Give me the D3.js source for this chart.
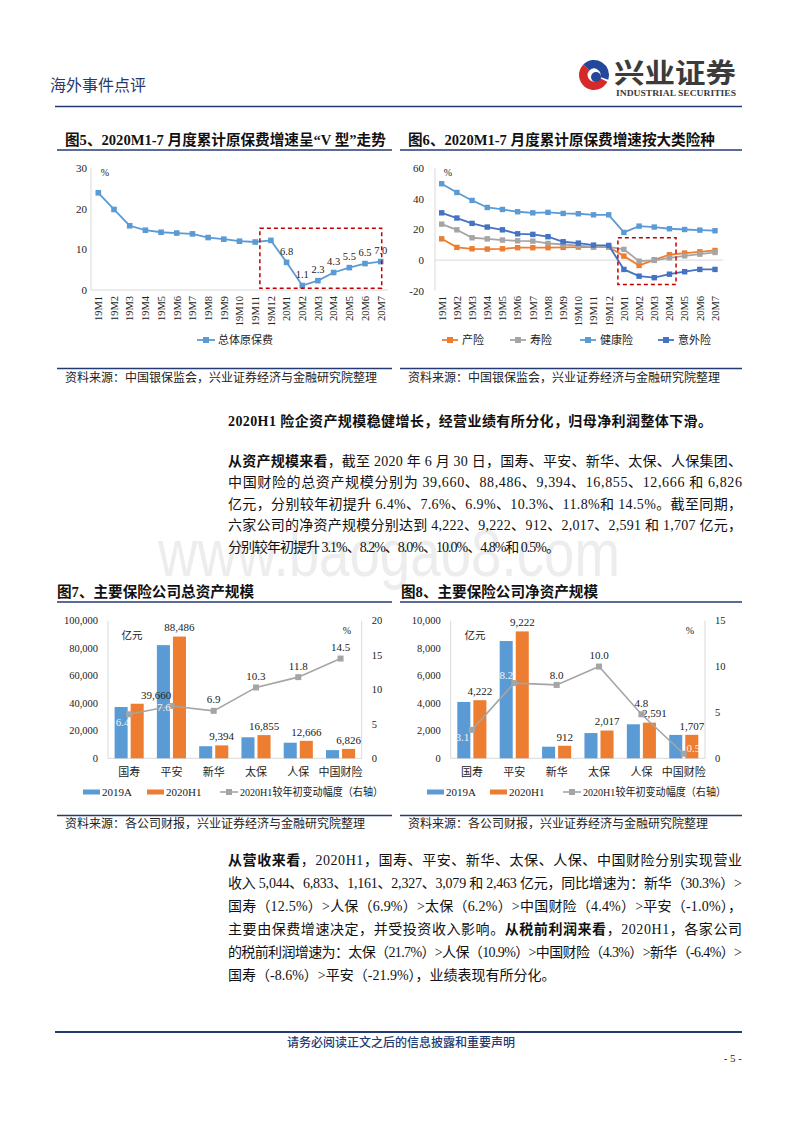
<!DOCTYPE html>
<html><head><meta charset="utf-8">
<script src="https://cdn.jsdelivr.net/npm/d3@7"></script>
<style>
body{margin:0;background:#fff}
svg{display:block}
text{font-family:"Liberation Serif","Noto Sans CJK SC",serif;fill:#222}
</style>
</head><body>
<svg id="page" width="800" height="1132"></svg>
<script>
// ---------------- DATA ----------------
const months = ["19M1","19M2","19M3","19M4","19M5","19M6","19M7","19M8","19M9","19M10","19M11","19M12","20M1","20M2","20M3","20M4","20M5","20M6","20M7"];
const totalPremium = [23.9,19.8,15.8,14.7,14.2,14.0,13.8,12.9,12.5,12.0,11.8,12.2,6.8,1.1,2.3,4.3,5.5,6.5,7.0];
const labelledMonths = ["20M1","20M2","20M3","20M4","20M5","20M6","20M7"];
const propertyIns = [13.9,8.3,7.4,7.2,7.4,8.1,8.1,8.1,8.3,8.5,8.5,8.5,2.6,-3.5,0.2,3.5,4.6,5.4,6.3];
const lifeIns = [23.5,19.8,14.6,13.9,13.1,12.6,12.4,10.9,10.2,9.4,8.7,8.7,7.0,-0.7,-0.2,1.5,2.8,3.9,5.0];
const healthIns = [49.9,44.2,39.0,34.4,33.1,31.6,30.9,31.2,30.5,30.3,29.6,29.6,18.1,22.2,21.6,20.5,20.0,19.6,19.2];
const accidentIns = [30.9,27.5,24.0,21.6,19.8,17.2,16.8,15.3,12.0,11.1,9.8,9.6,-6.1,-10.5,-11.5,-9.2,-7.6,-6.1,-6.1];
const fig6Series = ["产险","寿险","健康险","意外险"];

const companies = ["国寿","平安","新华","太保","人保","中国财险"];
const barSeries = ["2019A","2020H1"];
const totalAssets2019 = [37274,82236,8788,15281,11329,5962];
const totalAssetsH1 = [39660,88486,9394,16855,12666,6826];
const totalAssetsChg = [6.4,7.6,6.9,10.3,11.8,14.5];
const netAssets2019 = [4095,8523,844,1834,2472,1699];
const netAssetsH1 = [4222,9222,912,2017,2591,1707];
const netAssetsChg = [3.1,8.2,8.0,10.0,4.8,0.5];

const fig5Ticks = [0,10,20,30];
const fig6Ticks = [-20,0,20,40,60];
const fig7LeftTicks = [0,20000,40000,60000,80000,100000];
const fig7RightTicks = [0,5,10,15,20];
const fig8LeftTicks = [0,2000,4000,6000,8000,10000];
const fig8RightTicks = [0,5,10,15];

// ---------------- STYLE ----------------
const NAVY = "#243a73";
const BLUE = "#5b9bd5", ORANGE = "#ed7d31", GREY = "#a5a5a5", DBLUE = "#4472c4";
const AXIS = "#d9d9d9";
const CJK = '"Noto Sans CJK SC",sans-serif';
const svg = d3.select("#page");

// ---------------- WATERMARK ----------------
svg.append("text").attr("x",158).attr("y",576).attr("textLength",462).attr("lengthAdjust","spacingAndGlyphs")
  .style("font-family","'Liberation Sans',sans-serif").style("font-size","66px").style("fill","#ededed").text("www.baogao8.com");

// ---------------- HEADER ----------------
svg.append("text").attr("x",50).attr("y",91).style("font-family",CJK).style("font-size","16px").style("fill",NAVY).text("海外事件点评");
const logo = svg.append("g").attr("transform","translate(594,75)");
logo.append("path").attr("d",d3.arc()({innerRadius:6.5,outerRadius:15,startAngle:Math.PI*0.15,endAngle:Math.PI*1.25})).attr("fill","#d42a2a").attr("transform","rotate(90)");
logo.append("path").attr("d",d3.arc()({innerRadius:6.5,outerRadius:15,startAngle:Math.PI*1.25,endAngle:Math.PI*2.1})).attr("fill","#23479b").attr("transform","rotate(90)");
logo.append("circle").attr("r",5).attr("cx",2).attr("cy",2).attr("fill","#23479b");
svg.append("text").attr("x",614).attr("y",83).attr("textLength",122).attr("lengthAdjust","spacingAndGlyphs")
  .style("font-family",CJK).style("font-weight","700").style("font-size","27px").style("fill","#3b3b3b").text("兴业证券");
svg.append("text").attr("x",616).attr("y",96).attr("textLength",120).attr("lengthAdjust","spacingAndGlyphs")
  .style("font-weight","700").style("font-size","8px").style("fill","#3b3b3b").text("INDUSTRIAL SECURITIES");
svg.append("line").attr("x1",55).attr("x2",742).attr("y1",106.5).attr("y2",106.5).attr("stroke",NAVY).attr("stroke-width",1.5);

// ---------------- TITLES / SOURCES ----------------
function title(x, y, t){
  svg.append("text").attr("x",x).attr("y",y).style("font-weight","700").style("font-size","14.6px").style("fill","#111").text(t);
}
function rule(x1,x2,y,w){ svg.append("line").attr("x1",x1).attr("x2",x2).attr("y1",y).attr("y2",y).attr("stroke",NAVY).attr("stroke-width",w||1.5); }
function source(x,y,t){ svg.append("text").attr("x",x).attr("y",y).style("font-size","12px").style("fill","#222").text(t); }

title(65,145,"图5、2020M1-7 月度累计原保费增速呈“V 型”走势");
title(408,145,"图6、2020M1-7 月度累计原保费增速按大类险种");
rule(57,392,150); rule(400,742,150);
rule(57,392,368.5); rule(400,742,368.5);
source(65,382,"资料来源：中国银保监会，兴业证券经济与金融研究院整理");
source(408,382,"资料来源：中国银保监会，兴业证券经济与金融研究院整理");

title(57,597,"图7、主要保险公司总资产规模");
title(401,597,"图8、主要保险公司净资产规模");
rule(57,392,602); rule(400,742,602);
rule(57,392,815.5); rule(400,742,815.5);
source(65,828,"资料来源：各公司财报，兴业证券经济与金融研究院整理");
source(408,828,"资料来源：各公司财报，兴业证券经济与金融研究院整理");

// ---------------- FIG 5 ----------------
(function(){
  const g = svg.append("g");
  const x = d3.scalePoint(months,[98.3,380.7]);
  const y = d3.scaleLinear([0,30],[290,168]);
  g.append("line").attr("x1",91).attr("x2",91).attr("y1",y(30)).attr("y2",y(0)).attr("stroke",AXIS);
  g.append("line").attr("x1",91).attr("x2",388).attr("y1",y(0)).attr("y2",y(0)).attr("stroke",AXIS);
  g.selectAll(".yt").data(fig5Ticks).join("text").attr("x",87).attr("y",d=>y(d)).attr("dy","0.35em")
    .attr("text-anchor","end").style("font-size","11px").text(d=>d);
  g.selectAll(".xt").data(months).join("text")
    .attr("transform",d=>`translate(${x(d)+3.8},296) rotate(-90)`).attr("text-anchor","end")
    .style("font-size","10.5px").text(d=>d);
  g.append("text").attr("x",105).attr("y",176).attr("text-anchor","middle").style("font-size","10px").text("%");
  g.append("path").datum(totalPremium).attr("fill","none").attr("stroke",BLUE).attr("stroke-width",1.8)
    .attr("d",d3.line().x((d,i)=>x(months[i])).y(d=>y(d)));
  g.selectAll(".m").data(totalPremium).join("rect").attr("x",(d,i)=>x(months[i])-2.8).attr("y",d=>y(d)-2.8)
    .attr("width",5.6).attr("height",5.6).attr("fill",BLUE);
  g.selectAll(".lb").data(labelledMonths).join("text")
    .attr("x",d=>x(d)).attr("y",d=>y(totalPremium[months.indexOf(d)])-11).attr("dy","0.35em")
    .attr("text-anchor","middle").style("font-size","10.5px").text(d=>totalPremium[months.indexOf(d)].toFixed(1));
  g.append("rect").attr("x",x("19M12")-11).attr("y",y(15.2)).attr("width",x("20M7")+1-(x("19M12")-11)).attr("height",y(0.4)-y(15.2))
    .attr("fill","none").attr("stroke","#c00000").attr("stroke-width",1.5).attr("stroke-dasharray","4,3");
  g.append("line").attr("x1",197).attr("x2",215).attr("y1",340).attr("y2",340).attr("stroke",BLUE).attr("stroke-width",1.8);
  g.append("rect").attr("x",203).attr("y",337).attr("width",6).attr("height",6).attr("fill",BLUE);
  g.append("text").attr("x",218).attr("y",344).style("font-size","11px").text("总体原保费");
})();

// ---------------- FIG 6 ----------------
(function(){
  const g = svg.append("g");
  const x = d3.scalePoint(months,[441.7,715]);
  const y = d3.scaleLinear([-20,60],[290.7,168.3]);
  const series = [propertyIns,lifeIns,healthIns,accidentIns];
  const colors = [ORANGE,GREY,BLUE,DBLUE];
  g.append("line").attr("x1",435).attr("x2",435).attr("y1",y(60)).attr("y2",y(-20)).attr("stroke",AXIS);
  g.append("line").attr("x1",435).attr("x2",723).attr("y1",y(0)).attr("y2",y(0)).attr("stroke",AXIS);
  g.selectAll(".yt").data(fig6Ticks).join("text").attr("x",424).attr("y",d=>y(d)).attr("dy","0.35em")
    .attr("text-anchor","end").style("font-size","11px").text(d=>d);
  g.selectAll(".xt").data(months).join("text")
    .attr("transform",d=>`translate(${x(d)+3.8},296) rotate(-90)`).attr("text-anchor","end")
    .style("font-size","10.5px").text(d=>d);
  g.append("text").attr("x",448).attr("y",176).attr("text-anchor","middle").style("font-size","10px").text("%");
  series.forEach((s,k)=>{
    g.append("path").datum(s).attr("fill","none").attr("stroke",colors[k]).attr("stroke-width",1.8)
      .attr("d",d3.line().x((d,i)=>x(months[i])).y(d=>y(d)));
    g.selectAll(".m"+k).data(s).join("rect").attr("x",(d,i)=>x(months[i])-2.7).attr("y",d=>y(d)-2.7)
      .attr("width",5.4).attr("height",5.4).attr("fill",colors[k]);
  });
  g.append("rect").attr("x",x("20M1")-6).attr("y",y(14.6)).attr("width",x("20M4")+6.6-(x("20M1")-6)).attr("height",y(-15.9)-y(14.6))
    .attr("fill","none").attr("stroke","#c00000").attr("stroke-width",1.5).attr("stroke-dasharray","4,3");
  const lx = [442,510,580,658];
  fig6Series.forEach((n,k)=>{
    g.append("line").attr("x1",lx[k]).attr("x2",lx[k]+16).attr("y1",340).attr("y2",340).attr("stroke",colors[k]).attr("stroke-width",1.8);
    g.append("rect").attr("x",lx[k]+5).attr("y",337).attr("width",6).attr("height",6).attr("fill",colors[k]);
    g.append("text").attr("x",lx[k]+20).attr("y",344).style("font-size","11px").text(n);
  });
})();

// ---------------- FIG 7 / FIG 8 ----------------
function barChart(o){
  const g = svg.append("g");
  const x = d3.scaleBand(companies,[o.x0,o.x1]);
  const x1 = d3.scaleBand(barSeries,[6.6,35.7]).paddingInner(0.1875);
  const yl = d3.scaleLinear([0,o.lmax],[758.3,620.7]);
  const yr = d3.scaleLinear([0,o.rmax],[758.3,620.7]);
  const fmt = d3.format(",");
  g.append("line").attr("x1",o.x0).attr("x2",o.x0).attr("y1",yl(o.lmax)).attr("y2",yl(0)).attr("stroke",AXIS);
  g.append("line").attr("x1",o.x1).attr("x2",o.x1).attr("y1",yl(o.lmax)).attr("y2",yl(0)).attr("stroke",AXIS);
  g.append("line").attr("x1",o.x0).attr("x2",o.x1).attr("y1",yl(0)).attr("y2",yl(0)).attr("stroke",AXIS);
  g.selectAll(".lt").data(o.lticks).join("text").attr("x",o.x0-10).attr("y",d=>yl(d)).attr("dy","0.35em")
    .attr("text-anchor","end").style("font-size","10.5px").text(d=>fmt(d));
  g.selectAll(".rt").data(o.rticks).join("text").attr("x",o.x1+10).attr("y",d=>yr(d)).attr("dy","0.35em")
    .attr("text-anchor","start").style("font-size","10.5px").text(d=>d);
  const vals = [o.v2019,o.vH1], cols=[BLUE,ORANGE];
  vals.forEach((vs,k)=>{
    g.selectAll(".b"+k).data(vs).join("rect").attr("x",(d,i)=>x(companies[i])+x1(barSeries[k]))
      .attr("y",d=>yl(d)).attr("width",x1.bandwidth()).attr("height",d=>yl(0)-yl(d)).attr("fill",cols[k]);
  });
  g.selectAll(".bl").data(o.vH1).join("text")
    .attr("x",(d,i)=>x(companies[i])+x1("2020H1")+x1.bandwidth()/2+(o.barLabelDx[i]||0))
    .attr("y",d=>yl(d)-9).attr("dy","0.35em").attr("text-anchor","middle").style("font-size","11px").text(d=>fmt(d));
  g.selectAll(".cl").data(companies).join("text").attr("x",d=>x(d)+x.bandwidth()/2).attr("y",772).attr("dy","0.35em")
    .attr("text-anchor","middle").style("font-size","11px").text(d=>d);
  const cx = d=>x(d)+x.bandwidth()/2;
  g.append("path").datum(o.chg).attr("fill","none").attr("stroke",GREY).attr("stroke-width",1.6)
    .attr("d",d3.line().x((d,i)=>cx(companies[i])).y(d=>yr(d)));
  g.selectAll(".pm").data(o.chg).join("rect").attr("x",(d,i)=>cx(companies[i])-3).attr("y",d=>yr(d)-3)
    .attr("width",6).attr("height",6).attr("fill",GREY);
  g.selectAll(".pl").data(o.chg).join("text")
    .attr("x",(d,i)=>cx(companies[i])+o.lineLabelOff[i][0]).attr("y",(d,i)=>yr(d)+o.lineLabelOff[i][1]).attr("dy","0.35em")
    .attr("text-anchor","middle").style("font-size","11px").style("fill",(d,i)=>o.lineLabelOff[i][2]?"#f4f4f4":"#222")
    .text(d=>d.toFixed(1));
  g.append("text").attr("x",o.unitX).attr("y",635).attr("dy","0.35em").attr("text-anchor","middle").style("font-size","10.5px").text("亿元");
  g.append("text").attr("x",o.pctX).attr("y",630).attr("dy","0.35em").attr("text-anchor","middle").style("font-size","10px").text("%");
  const L = o.legend;
  g.append("rect").attr("x",L[0]).attr("y",789.5).attr("width",17).attr("height",5).attr("fill",BLUE);
  g.append("text").attr("x",L[0]+19).attr("y",796).style("font-size","11px").text("2019A");
  g.append("rect").attr("x",L[1]).attr("y",789.5).attr("width",17).attr("height",5).attr("fill",ORANGE);
  g.append("text").attr("x",L[1]+19).attr("y",796).style("font-size","11px").text("2020H1");
  g.append("line").attr("x1",L[2]).attr("x2",L[2]+18).attr("y1",792).attr("y2",792).attr("stroke",GREY).attr("stroke-width",1.6);
  g.append("rect").attr("x",L[2]+6).attr("y",789).attr("width",6).attr("height",6).attr("fill",GREY);
  g.append("text").attr("x",L[2]+20).attr("y",796).attr("textLength",143).attr("lengthAdjust","spacingAndGlyphs")
    .style("font-size","11px").text("2020H1较年初变动幅度（右轴）");
}
barChart({x0:108,x1:361.7,lmax:100000,rmax:20,lticks:fig7LeftTicks,rticks:fig7RightTicks,
  v2019:totalAssets2019,vH1:totalAssetsH1,chg:totalAssetsChg,barLabelDx:[19,0,0,0,0,0],
  lineLabelOff:[[-6.5,7.5,1],[-7.5,1,1],[0,-12,0],[0,-11,0],[0,-11,0],[0,-11,0]],
  unitX:132,pctX:347,legend:[83,147,220]});
barChart({x0:450.7,x1:705,lmax:10000,rmax:15,lticks:fig8LeftTicks,rticks:fig8RightTicks,
  v2019:netAssets2019,vH1:netAssetsH1,chg:netAssetsChg,barLabelDx:[0,0,0,0,5,0],
  lineLabelOff:[[-9.5,7.5,1],[-8,-8.4,1],[0,-10,0],[0,-11,0],[0,-11,0],[9.5,-6,1]],
  unitX:475,pctX:690,legend:[427,490,563]});

// ---------------- BODY TEXT ----------------
const BX = 228, BW = 514;
function line(y, parts, width, size){
  const t = svg.append("text").attr("x",BX).attr("y",y).style("font-size",(size||14)+"px").style("fill","#111");
  if(width) t.attr("textLength",width).attr("lengthAdjust","spacing");
  parts.forEach(p=>{ const s=t.append("tspan").text(p[0]); if(p[1]) s.style("font-weight","700"); });
}
line(426,[["2020H1 险企资产规模稳健增长，经营业绩有所分化，归母净利润整体下滑。",1]],484);
const p1 = [
  [["从资产规模来看",1],["，截至 2020 年 6 月 30 日，国寿、平安、新华、太保、人保集团、"]],
  [["中国财险的总资产规模分别为 39,660、88,486、9,394、16,855、12,666 和 6,826"]],
  [["亿元，分别较年初提升 6.4%、7.6%、6.9%、10.3%、11.8%和 14.5%。截至同期，"]],
  [["六家公司的净资产规模分别达到 4,222、9,222、912、2,017、2,591 和 1,707 亿元，"]],
  [["分别较年初提升 3.1%、8.2%、8.0%、10.0%、4.8%和 0.5%。"]]
];
p1.forEach((l,i)=>line(466+i*21.4,l,i<p1.length-1?BW:332));
const p2 = [
  [["从营收来看",1],["，2020H1，国寿、平安、新华、太保、人保、中国财险分别实现营业"]],
  [["收入 5,044、6,833、1,161、2,327、3,079 和 2,463 亿元，同比增速为：新华（30.3%）>"]],
  [["国寿（12.5%）>人保（6.9%）>太保（6.2%）>中国财险（4.4%）>平安（-1.0%），"]],
  [["主要由保费增速决定，并受投资收入影响。"],["从税前利润来看",1],["，2020H1，各家公司"]],
  [["的税前利润增速为：太保（21.7%）>人保（10.9%）>中国财险（4.3%）>新华（-6.4%）>"]],
  [["国寿（-8.6%）>平安（-21.9%），业绩表现有所分化。"]]
];
p2.forEach((l,i)=>line(865+i*23,l,i<p2.length-1?BW:null));

// ---------------- FOOTER ----------------
rule(55,742,1032,2);
svg.append("text").attr("x",401).attr("y",1047).attr("text-anchor","middle").style("font-family",CJK).style("font-size","12px")
  .style("fill",NAVY).style("font-weight","500").text("请务必阅读正文之后的信息披露和重要声明");
svg.append("text").attr("x",742).attr("y",1062).attr("text-anchor","end").style("font-size","11px").text("- 5 -");
</script>
</body></html>
